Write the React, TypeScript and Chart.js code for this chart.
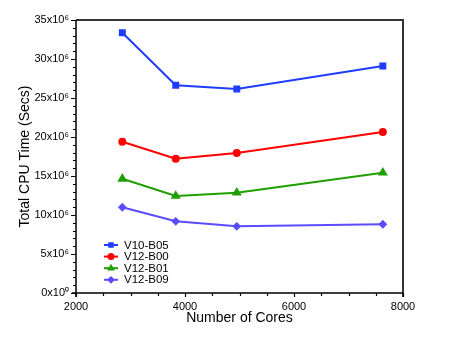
import React, { useEffect, useRef } from 'react';
import { Chart, registerables } from 'chart.js';
import { drawPoint } from 'chart.js/helpers';

Chart.register(...registerables);

const cores = [2850, 3830, 4950, 7630];
const seriesNames = ['V10-B05', 'V12-B00', 'V12-B01', 'V12-B09'];
const v10b05 = [33.37e6, 26.63e6, 26.15e6, 29.1e6];
const v12b00 = [19.4e6, 17.22e6, 17.95e6, 20.64e6];
const v12b01 = [14.65e6, 12.44e6, 12.86e6, 15.42e6];
const v12b09 = [10.99e6, 9.19e6, 8.55e6, 8.81e6];
const seriesValues = [v10b05, v12b00, v12b01, v12b09];
const colors = ['#1f3dff', '#ff0000', '#1f9f00', '#5a4cff'];
const pointStyles = ['rect', 'circle', 'triangle', 'rectRot'];
const pointRadii = [3.5, 3, 3.8, 3];

const xMin = 2000, xMax = 8000, xStep = 2000, xMinor = 500;
const yMin = 0, yMax = 35e6, yStep = 5e6, yMinor = 1e6;

const FONT = '"Liberation Sans", Arial, Helvetica, sans-serif';

const framePlugin = {
  id: 'frame',
  afterDraw(chart: any) {
    const { ctx, chartArea: a, scales } = chart;
    const xs = scales.x, ys = scales.y;
    ctx.save();
    // top & right frame
    ctx.strokeStyle = '#333';
    ctx.lineWidth = 2;
    ctx.beginPath();
    ctx.moveTo(a.left, a.top);
    ctx.lineTo(a.right, a.top);
    ctx.lineTo(a.right, a.bottom + 4);
    ctx.stroke();
    // axes
    ctx.strokeStyle = '#000';
    ctx.lineWidth = 1.5;
    ctx.beginPath();
    ctx.moveTo(a.left, a.top);
    ctx.lineTo(a.left, a.bottom + 4);
    ctx.moveTo(a.left - 4, a.bottom);
    ctx.lineTo(a.right, a.bottom);
    ctx.stroke();
    // ticks
    ctx.lineWidth = 1.2;
    ctx.beginPath();
    for (let v = xMin; v <= xMax + 1e-9; v += xMinor) {
      const px = Math.round(xs.getPixelForValue(v)) + 0.5;
      const len = v % xStep === 0 ? 4 : 3;
      ctx.moveTo(px, a.bottom);
      ctx.lineTo(px, a.bottom + len);
    }
    for (let v = yMin; v <= yMax + 1; v += yMinor) {
      const py = Math.round(ys.getPixelForValue(v)) + 0.5;
      const len = v % yStep === 0 ? 5 : 3;
      ctx.moveTo(a.left, py);
      ctx.lineTo(a.left - len, py);
    }
    ctx.stroke();
    ctx.restore();
  },
  afterDatasetsDraw(chart: any) {
    const { ctx, chartArea: a } = chart;
    ctx.save();
    const x0 = a.left + 28;
    const y0 = a.bottom - 48;
    const rowH = 11.6;
    ctx.font = `11.5px ${FONT}`;
    ctx.textBaseline = 'middle';
    ctx.textAlign = 'left';
    seriesNames.forEach((name, i) => {
      const y = y0 + i * rowH;
      ctx.strokeStyle = colors[i];
      ctx.fillStyle = colors[i];
      ctx.lineWidth = 2;
      ctx.beginPath();
      ctx.moveTo(x0, y);
      ctx.lineTo(x0 + 14, y);
      ctx.stroke();
      drawPoint(ctx, { pointStyle: pointStyles[i], radius: 2.5, borderWidth: 1, rotation: 0 } as any, x0 + 7, y);
      ctx.fillStyle = '#000';
      ctx.fillText(name, x0 + 20, y + 0.5);
    });
    ctx.restore();
  },
};

export default function App() {
  const ref = useRef<HTMLCanvasElement>(null);
  useEffect(() => {
    if (!ref.current) return;
    const chart = new Chart(ref.current, {
      type: 'line',
      data: {
        datasets: seriesNames.map((name, i) => ({
          label: name,
          data: cores.map((c, j) => ({ x: c, y: seriesValues[i][j] })),
          borderColor: colors[i],
          backgroundColor: colors[i],
          pointBackgroundColor: colors[i],
          pointBorderColor: colors[i],
          pointStyle: pointStyles[i] as any,
          pointRadius: pointRadii[i],
          borderWidth: 2,
          tension: 0,
          fill: false,
        })),
      },
      options: {
        responsive: false,
        animation: false,
        layout: { padding: { top: 20, right: 57, left: 0, bottom: 0 } },
        plugins: { legend: { display: false }, tooltip: { enabled: false } },
        scales: {
          x: {
            type: 'linear',
            min: xMin,
            max: xMax,
            grid: { display: false, drawTicks: false },
            border: { display: false },
            ticks: {
              stepSize: xStep,
              padding: 7,
              color: '#000',
              font: { family: FONT, size: 11 },
              maxRotation: 0,
              callback: (v: any) => String(v),
            },
            title: {
              display: true,
              text: 'Number of Cores',
              color: '#000',
              font: { family: FONT, size: 14 },
              padding: { top: 0, bottom: 28.6 },
            },
            afterFit: (s: any) => { s.height = 62; },
          },
          y: {
            type: 'linear',
            min: yMin,
            max: yMax,
            grid: { display: false, drawTicks: false },
            border: { display: false },
            ticks: {
              stepSize: yStep,
              padding: 7,
              color: '#000',
              font: { family: FONT, size: 11 },
              callback: (v: any) => (v === 0 ? '0x10\u2070' : `${Math.round(v / 1e6)}x10\u2076`),
            },
            title: {
              display: true,
              text: 'Total CPU Time (Secs)',
              color: '#000',
              font: { family: FONT, size: 14 },
              padding: { top: 16.6, bottom: 0 },
            },
            afterFit: (s: any) => { s.width = 76; },
          },
        },
      },
      plugins: [framePlugin],
    });
    return () => chart.destroy();
  }, []);
  return (
    <div style={{ position: 'fixed', left: 0, top: 0, width: 460, height: 355, background: '#fff' }}>
      <canvas ref={ref} width={460} height={355} />
    </div>
  );
}
